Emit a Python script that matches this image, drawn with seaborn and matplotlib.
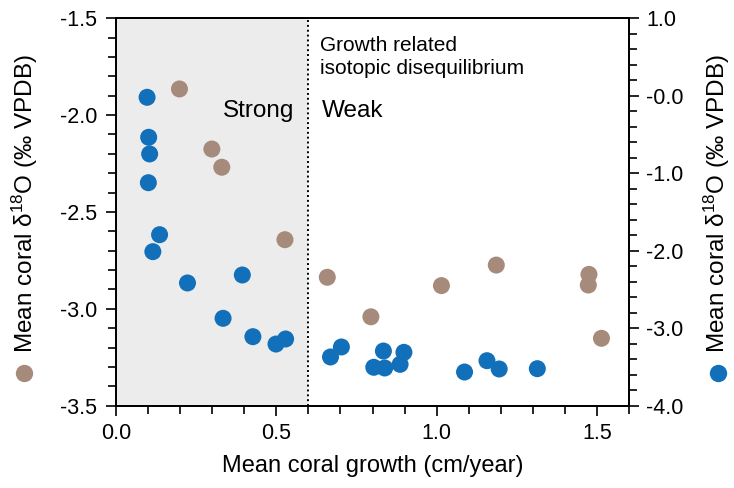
import matplotlib
matplotlib.use("Agg")
import matplotlib.pyplot as plt
from matplotlib.lines import Line2D
from matplotlib.ticker import MultipleLocator, FuncFormatter
import seaborn as sns
import pandas as pd

# Mean annual growth (cm/year) and mean d18O, left-axis series (brown)
growth_left = [0.198, 0.299, 0.330, 0.527, 0.659, 0.795, 1.015, 1.186, 1.475, 1.473, 1.514]
d18o_left = [-1.865, -2.175, -2.269, -2.643, -2.837, -3.041, -2.880, -2.774, -2.822, -2.877, -3.152]

# Right-axis series (blue)
growth_right = [0.097, 0.102, 0.105, 0.101, 0.136, 0.115, 0.223, 0.394, 0.334, 0.427,
                0.499, 0.529, 0.669, 0.703, 0.804, 0.838, 0.834, 0.886, 0.898, 1.087,
                1.157, 1.195, 1.314]
d18o_right = [-0.020, -0.536, -0.751, -1.122, -1.793, -2.012, -2.416, -2.313, -2.872, -3.109,
              -3.204, -3.139, -3.371, -3.242, -3.504, -3.513, -3.294, -3.466, -3.311, -3.565,
              -3.419, -3.526, -3.522]

threshold = 0.6
x_ticks = [0.0, 0.5, 1.0, 1.5]
left_ticks = [-3.5, -3.0, -2.5, -2.0, -1.5]
right_ticks = [-4.0, -3.0, -2.0, -1.0, 0.0, 1.0]

BROWN = "#A68A7B"
BLUE = "#1170B9"

sns.set_theme(style="ticks")
plt.rcParams["font.family"] = ["Liberation Sans", "DejaVu Sans"]
plt.rcParams["mathtext.fontset"] = "custom"
plt.rcParams["mathtext.rm"] = "Liberation Sans"
plt.rcParams["mathtext.it"] = "Liberation Sans:italic"
plt.rcParams["text.color"] = "black"
plt.rcParams["axes.labelcolor"] = "black"

fig = plt.figure(figsize=(7.34, 4.88), dpi=100)
ax = fig.add_axes([0.158, 0.1686, 0.699, 0.794])
ax2 = ax.twinx()

df_l = pd.DataFrame({"growth": growth_left, "d18o": d18o_left})
df_r = pd.DataFrame({"growth": growth_right, "d18o": d18o_right})

ax.axvspan(0, threshold, color="#ECECEC", zorder=0, lw=0)
ax.axvline(threshold, color="black", ls=(0, (1, 1.5)), lw=1.4, zorder=1)

sns.scatterplot(data=df_l, x="growth", y="d18o", ax=ax, color=BROWN, s=150,
                edgecolor="none", zorder=3, legend=False)
sns.scatterplot(data=df_r, x="growth", y="d18o", ax=ax2, color=BLUE, s=150,
                edgecolor="none", zorder=3, legend=False)

ax.set_xlim(0, 1.6)
ax.set_ylim(-3.5, -1.5)
ax2.set_ylim(-4.0, 1.0)

ax.set_xticks(x_ticks)
ax.set_yticks(left_ticks)
ax2.set_yticks(right_ticks)
ax.xaxis.set_minor_locator(MultipleLocator(0.1))
ax.yaxis.set_minor_locator(MultipleLocator(0.1))
ax2.yaxis.set_minor_locator(MultipleLocator(0.2))
ax.xaxis.set_major_formatter(FuncFormatter(lambda v, p: f"{v:.1f}"))
ax.yaxis.set_major_formatter(FuncFormatter(lambda v, p: f"{v:.1f}"))
ax2.yaxis.set_major_formatter(
    FuncFormatter(lambda v, p: "-0.0" if abs(v) < 1e-9 else f"{v:.1f}"))

for a in (ax, ax2):
    for s in a.spines.values():
        s.set_linewidth(1.3)
        s.set_color("black")
    a.tick_params(which="major", length=7.5, width=1.2, labelsize=15.5, colors="black")
    a.tick_params(which="minor", length=5.5, width=1.2, colors="black")
ax.tick_params(axis="x", which="major", pad=5)
ax.tick_params(axis="y", which="major", pad=6)
ax2.tick_params(axis="y", which="major", pad=5)

ax.set_xlabel("Mean coral growth (cm/year)", fontsize=17, labelpad=8, color="black")
ax.set_ylabel("")
ax2.set_ylabel("")

ylab = "Mean coral \u03b4$^{18}$O (\u2030 VPDB)"
fig.text(25 / 734, 1 - 203 / 488, ylab, rotation=90, ha="center", va="center",
         fontsize=17.5, color="black")
fig.text(717 / 734, 1 - 203 / 488, ylab, rotation=90, ha="center", va="center",
         fontsize=17.5, color="black")
fig.add_artist(Line2D([24 / 734], [1 - 373 / 488], marker="o", color=BROWN, markersize=12.5,
                      markeredgewidth=0, transform=fig.transFigure))
fig.add_artist(Line2D([718 / 734], [1 - 373 / 488], marker="o", color=BLUE, markersize=12.5,
                      markeredgewidth=0, transform=fig.transFigure))

ax.text(0.556, -2.008, "Strong", ha="right", va="baseline", fontsize=17.5, color="black")
ax.text(0.643, -2.008, "Weak", ha="left", va="baseline", fontsize=17.5, color="black")
ax.text(0.636, -1.667, "Growth related", ha="left", va="baseline", fontsize=15, color="black")
ax.text(0.636, -1.788, "isotopic disequilibrium", ha="left", va="baseline", fontsize=15,
        color="black")

fig.savefig("out.png", dpi=100)
